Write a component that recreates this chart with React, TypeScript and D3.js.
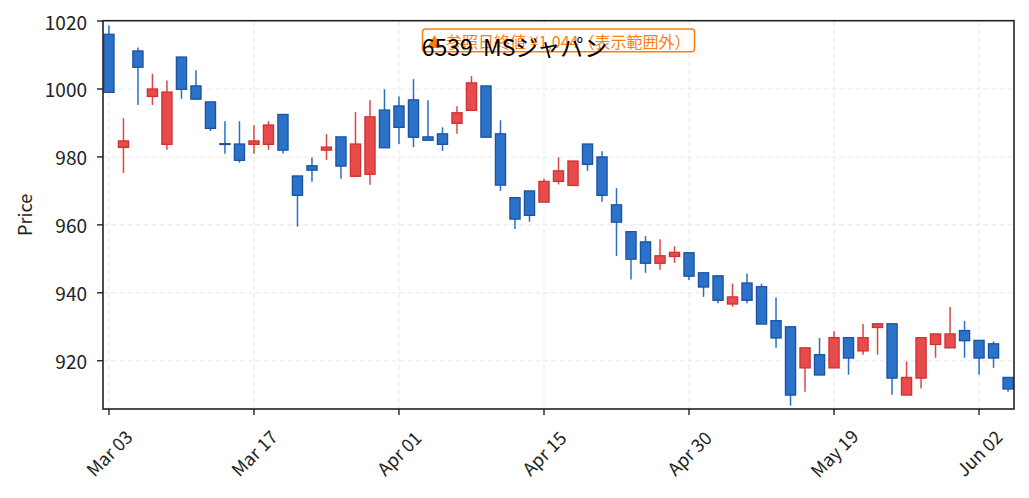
import { useEffect, useRef } from "react";
import * as d3 from "d3";

// ── Data ──────────────────────────────────────────────────────────────────────

const OPEN = [
  1016.1, 982.8, 1011.2, 997.8, 983.7, 1009.4, 1000.9, 996.2, 983.9, 983.8,
  983.7, 983.7, 992.5, 974.4, 977.4, 982.0, 985.9, 974.3, 974.9, 993.8,
  995.0, 996.8, 985.9, 986.8, 989.9, 993.7, 1000.9, 986.8, 968.0, 970.0,
  966.7, 972.8, 971.6, 983.8, 980.0, 965.9, 958.0, 955.0, 948.7, 950.7,
  951.8, 945.9, 945.0, 936.7, 942.9, 941.8, 931.8, 930.0, 917.9, 921.8,
  917.9, 926.8, 922.9, 929.8, 930.9, 909.9, 914.9, 924.8, 923.8, 928.9,
  926.0, 925.0, 915.1,
];
const HIGH = [
  1018.7, 991.4, 1012.2, 1004.5, 1002.5, 1009.4, 1005.5, 996.2, 990.5, 990.5,
  989.3, 990.5, 992.5, 974.4, 979.8, 986.7, 985.9, 993.2, 996.7, 999.9,
  997.8, 1002.9, 996.7, 988.7, 994.9, 1003.8, 1000.9, 990.8, 968.0, 970.0,
  973.6, 979.9, 978.8, 983.8, 981.7, 970.8, 958.0, 956.7, 955.8, 953.7,
  951.8, 945.9, 945.0, 942.7, 945.7, 942.7, 938.6, 930.0, 923.8, 926.7,
  928.7, 926.8, 930.8, 931.0, 930.9, 919.8, 926.8, 927.9, 935.8, 931.7,
  926.0, 925.7, 915.1,
];
const LOW = [
  998.9, 975.3, 995.3, 995.3, 982.1, 997.1, 997.0, 987.6, 980.9, 978.3,
  980.9, 982.1, 981.0, 959.5, 972.7, 979.1, 973.6, 974.3, 971.8, 982.7,
  983.8, 982.9, 984.9, 981.8, 986.8, 993.7, 985.8, 970.0, 958.8, 960.9,
  966.7, 971.9, 971.6, 975.9, 966.8, 950.8, 943.9, 945.9, 946.8, 948.8,
  943.8, 938.8, 936.9, 935.9, 936.9, 930.8, 923.8, 906.8, 910.9, 915.8,
  917.9, 915.9, 921.8, 921.8, 910.0, 909.9, 911.8, 920.9, 923.8, 920.9,
  915.9, 917.9, 910.9,
];
const CLOSE = [
  999.0, 984.7, 1006.4, 1000.0, 999.1, 999.9, 997.0, 988.4, 983.7, 979.0,
  984.7, 989.4, 982.0, 968.7, 976.1, 982.9, 977.3, 983.8, 991.8, 982.7,
  988.7, 985.8, 984.9, 983.7, 993.0, 1001.8, 985.8, 971.7, 961.7, 962.8,
  972.8, 975.9, 978.8, 977.8, 968.7, 960.8, 949.9, 948.7, 950.9, 951.9,
  944.9, 941.7, 937.8, 938.8, 937.8, 930.8, 926.7, 909.9, 923.8, 915.8,
  926.8, 920.8, 926.8, 930.9, 914.9, 915.1, 926.8, 927.9, 927.9, 925.9,
  920.8, 920.8, 911.7,
];

const TICK_INDEX  = [0, 10, 20, 30, 40, 50, 60];
const TICK_LABELS = ["Mar 03", "Mar 17", "Apr 01", "Apr 15", "Apr 30", "May 19", "Jun 02"];
const Y_TICKS     = [920, 940, 960, 980, 1000, 1020];

const TITLE   = "6539  MSジャパン";
const NOTE    = "▲ 参照日終値 ¥1,044（表示範囲外）";
const Y_LABEL = "Price";

// ── Config ────────────────────────────────────────────────────────────────────

const W = 1029;
const H = 498;
const PLOT = { left: 103, right: 1014, top: 20.7, bottom: 409 };
const FONT = "'Noto Sans CJK JP', 'Noto Sans', sans-serif";

const UP   = { fill: "#e84b4b", edge: "#d03232", wick: "#e04444" };
const DOWN = { fill: "#2c72c8", edge: "#1b53a4", wick: "#2a6ec6" };

// ── Component ─────────────────────────────────────────────────────────────────

const App = () => {
  const svgRef = useRef<SVGSVGElement>(null);

  useEffect(() => {
    document.body.style.margin = "0";
    if (!svgRef.current) return;

    const svg = d3.select(svgRef.current);
    svg.selectAll("*").remove();

    const x = d3.scaleLinear().domain([-0.41, 62.41]).range([PLOT.left, PLOT.right]);
    const y = d3.scaleLinear().domain([905.8, 1020.1]).range([PLOT.bottom, PLOT.top]);

    svg.append("rect").attr("width", W).attr("height", H).attr("fill", "white");

    // Grid lines
    const grid = svg.append("g")
      .attr("stroke", "#e9e9e9")
      .attr("stroke-width", 1.1)
      .attr("stroke-dasharray", "5,3");

    grid.selectAll(".gy")
      .data(Y_TICKS)
      .join("line")
      .attr("x1", PLOT.left).attr("x2", PLOT.right)
      .attr("y1", (d) => y(d)).attr("y2", (d) => y(d));

    grid.selectAll(".gx")
      .data(TICK_INDEX)
      .join("line")
      .attr("x1", (d) => x(d)).attr("x2", (d) => x(d))
      .attr("y1", PLOT.top).attr("y2", PLOT.bottom);

    // Candles
    const candles = OPEN.map((o, i) => ({
      i, o, h: HIGH[i], l: LOW[i], c: CLOSE[i], up: CLOSE[i] >= o,
    }));
    const bw = x(0.35) - x(-0.35);

    const plot = svg.append("g");

    plot.selectAll(".wick")
      .data(candles)
      .join("line")
      .attr("x1", (d) => x(d.i)).attr("x2", (d) => x(d.i))
      .attr("y1", (d) => y(d.h)).attr("y2", (d) => y(d.l))
      .attr("stroke", (d) => (d.up ? UP.wick : DOWN.wick))
      .attr("stroke-width", 1.5);

    plot.selectAll(".body")
      .data(candles)
      .join("rect")
      .attr("x", (d) => x(d.i) - bw / 2)
      .attr("width", bw)
      .attr("y", (d) => y(Math.max(d.o, d.c)))
      .attr("height", (d) => Math.max(Math.abs(y(d.o) - y(d.c)), 0.8))
      .attr("fill", (d) => (d.up ? UP.fill : DOWN.fill))
      .attr("stroke", (d) => (d.up ? UP.edge : DOWN.edge))
      .attr("stroke-width", 1.3);

    // Spines
    svg.append("rect")
      .attr("x", PLOT.left).attr("y", PLOT.top)
      .attr("width", PLOT.right - PLOT.left)
      .attr("height", PLOT.bottom - PLOT.top)
      .attr("fill", "none")
      .attr("stroke", "#222")
      .attr("stroke-width", 1.6);

    // Y axis
    const yAxis = svg.append("g").attr("font-family", FONT).attr("font-size", 19).attr("fill", "#222");
    Y_TICKS.forEach((t) => {
      yAxis.append("line")
        .attr("x1", PLOT.left - 6).attr("x2", PLOT.left)
        .attr("y1", y(t)).attr("y2", y(t))
        .attr("stroke", "#222").attr("stroke-width", 1.4);
      yAxis.append("text")
        .attr("x", PLOT.left - 16)
        .attr("y", y(t))
        .attr("text-anchor", "end")
        .attr("dominant-baseline", "central")
        .text(t);
    });

    // X axis
    const xAxis = svg.append("g").attr("font-family", FONT).attr("font-size", 18).attr("fill", "#222");
    TICK_INDEX.forEach((t, k) => {
      xAxis.append("line")
        .attr("x1", x(t)).attr("x2", x(t))
        .attr("y1", PLOT.bottom).attr("y2", PLOT.bottom + 6)
        .attr("stroke", "#222").attr("stroke-width", 1.4);
      xAxis.append("text")
        .attr("transform", `translate(${x(t) - 0.5},452.5) rotate(-45)`)
        .attr("text-anchor", "middle")
        .attr("dominant-baseline", "central")
        .text(TICK_LABELS[k]);
    });

    // Y label
    svg.append("text")
      .attr("transform", `translate(24,${(PLOT.top + PLOT.bottom) / 2}) rotate(-90)`)
      .attr("text-anchor", "middle")
      .attr("dominant-baseline", "central")
      .attr("font-family", FONT)
      .attr("font-size", 18)
      .attr("fill", "#222")
      .text(Y_LABEL);

    // Out-of-range note
    const noteX = (PLOT.left + PLOT.right) / 2;
    const noteG = svg.append("g");
    const noteBox = noteG.append("rect");
    const noteText = noteG.append("text")
      .attr("x", noteX)
      .attr("y", 40.5)
      .attr("text-anchor", "middle")
      .attr("dominant-baseline", "central")
      .attr("font-family", FONT)
      .attr("font-size", 16)
      .attr("fill", "#ff7f0e")
      .text(NOTE);
    const tw = (noteText.node() as SVGTextElement).getComputedTextLength();
    noteBox
      .attr("x", noteX - tw / 2 - 4)
      .attr("y", 29)
      .attr("width", tw + 8)
      .attr("height", 22.7)
      .attr("rx", 3)
      .attr("fill", "white")
      .attr("fill-opacity", 0.9)
      .attr("stroke", "#ff7f0e")
      .attr("stroke-width", 1.5);

    // Title
    svg.append("text")
      .attr("x", W / 2)
      .attr("y", 56)
      .attr("xml:space", "preserve")
      .attr("text-anchor", "middle")
      .attr("font-family", FONT)
      .attr("font-size", 23)
      .attr("fill", "#000")
      .style("white-space", "pre")
      .text(TITLE);
  }, []);

  return (
    <svg
      ref={svgRef}
      width={W}
      height={H}
      style={{ display: "block", position: "fixed", left: 0, top: 0 }}
    />
  );
};

export default App;
